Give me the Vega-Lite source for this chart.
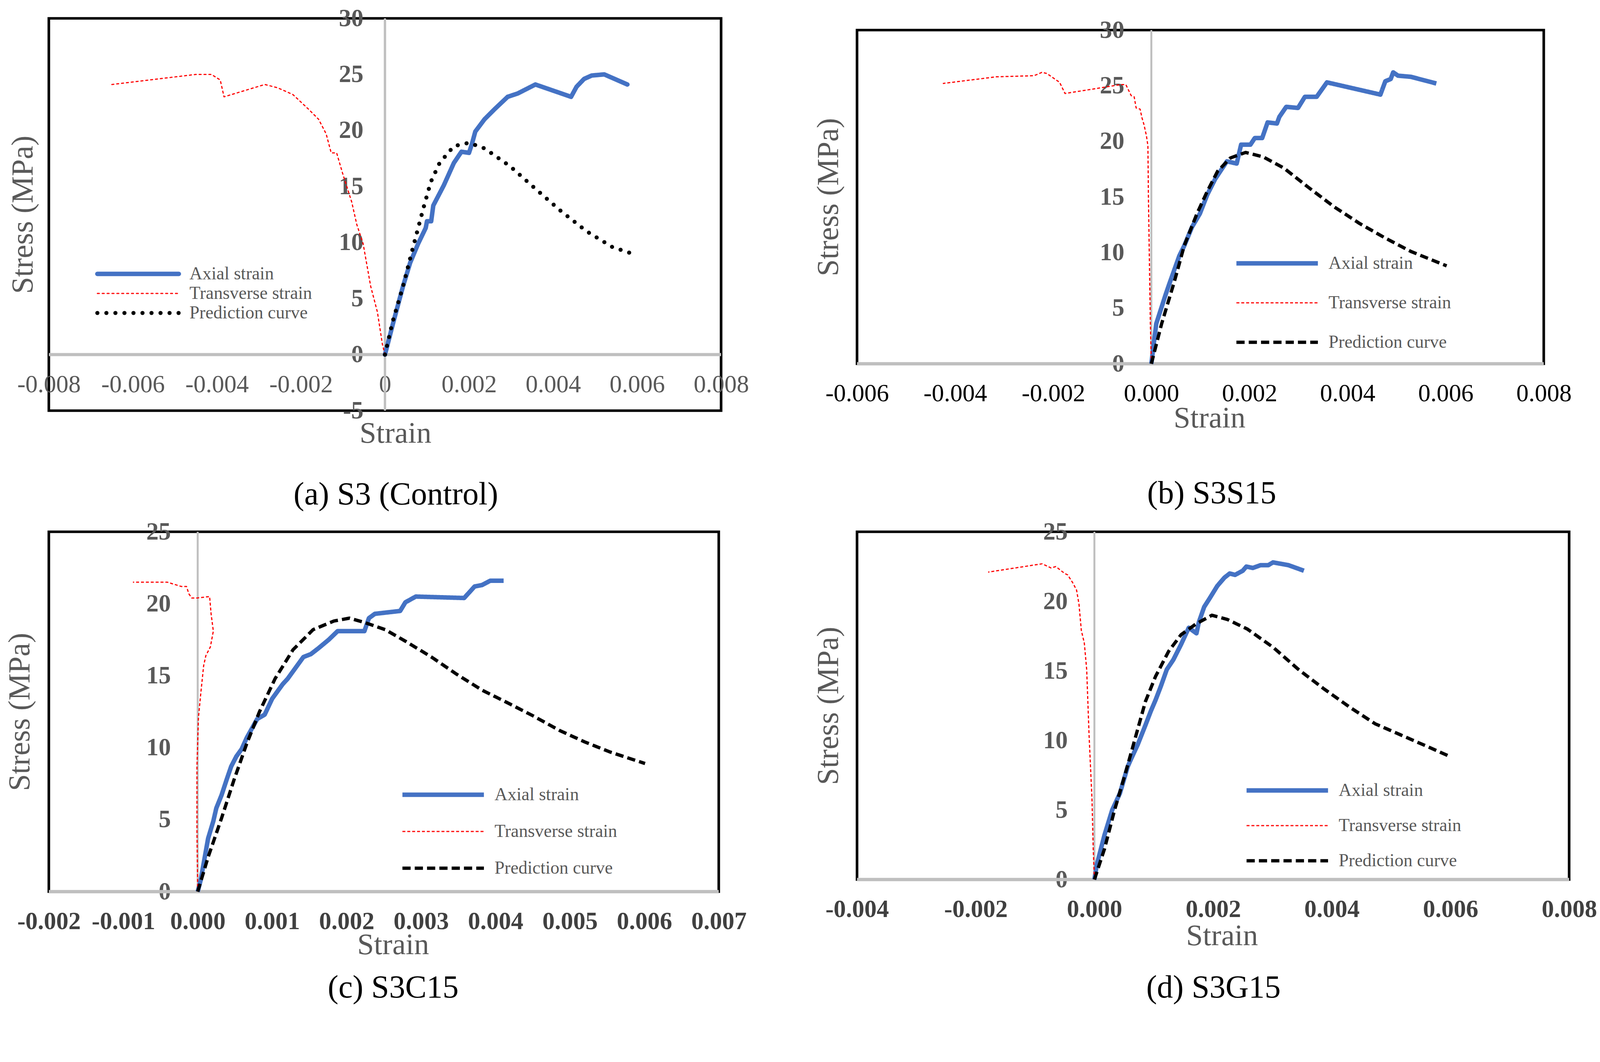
{
  "$schema": "https://vega.github.io/schema/vega-lite/v6.json",
  "autosize": {"type": "none"},
  "padding": {"left": 125, "top": 9, "right": 4147, "bottom": 2709},
  "background": "white",
  "bounds": "full",
  "spacing": 157,
  "resolve": {
    "scale": {"color": "independent", "strokeDash": "independent", "strokeWidth": "independent"},
    "legend": {"color": "independent", "strokeDash": "independent", "strokeWidth": "independent"}
  },
  "datasets": {
    "a": [
      {"series": "Axial strain", "strain": 0, "stress": 0},
      {"series": "Axial strain", "strain": 0.0002, "stress": 2.9},
      {"series": "Axial strain", "strain": 0.00043, "stress": 6.1},
      {"series": "Axial strain", "strain": 0.0006, "stress": 8.2},
      {"series": "Axial strain", "strain": 0.00079, "stress": 9.9},
      {"series": "Axial strain", "strain": 0.00097, "stress": 11.3},
      {"series": "Axial strain", "strain": 0.001, "stress": 11.9},
      {"series": "Axial strain", "strain": 0.0011, "stress": 11.9},
      {"series": "Axial strain", "strain": 0.00115, "stress": 13.3},
      {"series": "Axial strain", "strain": 0.0014, "stress": 15.1},
      {"series": "Axial strain", "strain": 0.00164, "stress": 17.1},
      {"series": "Axial strain", "strain": 0.00182, "stress": 18.1},
      {"series": "Axial strain", "strain": 0.002, "stress": 18.0},
      {"series": "Axial strain", "strain": 0.00207, "stress": 18.8},
      {"series": "Axial strain", "strain": 0.00215, "stress": 19.9},
      {"series": "Axial strain", "strain": 0.00237, "stress": 21.0},
      {"series": "Axial strain", "strain": 0.00261, "stress": 21.9},
      {"series": "Axial strain", "strain": 0.00292, "stress": 23.0},
      {"series": "Axial strain", "strain": 0.00316, "stress": 23.3},
      {"series": "Axial strain", "strain": 0.00358, "stress": 24.1},
      {"series": "Axial strain", "strain": 0.00443, "stress": 23.0},
      {"series": "Axial strain", "strain": 0.00456, "stress": 23.9},
      {"series": "Axial strain", "strain": 0.00474, "stress": 24.6},
      {"series": "Axial strain", "strain": 0.00492, "stress": 24.9},
      {"series": "Axial strain", "strain": 0.00522, "stress": 25.0},
      {"series": "Axial strain", "strain": 0.00577, "stress": 24.1},
      {"series": "Transverse strain", "strain": 0, "stress": 0},
      {"series": "Transverse strain", "strain": -0.00006, "stress": 0.9},
      {"series": "Transverse strain", "strain": -0.00018, "stress": 3.8},
      {"series": "Transverse strain", "strain": -0.00034, "stress": 6.1},
      {"series": "Transverse strain", "strain": -0.00052, "stress": 9.9},
      {"series": "Transverse strain", "strain": -0.00067, "stress": 11.6},
      {"series": "Transverse strain", "strain": -0.00079, "stress": 13.6},
      {"series": "Transverse strain", "strain": -0.00101, "stress": 16.2},
      {"series": "Transverse strain", "strain": -0.00115, "stress": 18.0},
      {"series": "Transverse strain", "strain": -0.00128, "stress": 18.0},
      {"series": "Transverse strain", "strain": -0.0014, "stress": 19.7},
      {"series": "Transverse strain", "strain": -0.00158, "stress": 21.0},
      {"series": "Transverse strain", "strain": -0.00182, "stress": 21.9},
      {"series": "Transverse strain", "strain": -0.00219, "stress": 23.2},
      {"series": "Transverse strain", "strain": -0.00255, "stress": 23.8},
      {"series": "Transverse strain", "strain": -0.00286, "stress": 24.1},
      {"series": "Transverse strain", "strain": -0.00383, "stress": 23.0},
      {"series": "Transverse strain", "strain": -0.00392, "stress": 24.5},
      {"series": "Transverse strain", "strain": -0.00413, "stress": 25.0},
      {"series": "Transverse strain", "strain": -0.0045, "stress": 25.0},
      {"series": "Transverse strain", "strain": -0.0065, "stress": 24.1},
      {"series": "Prediction curve", "strain": 0, "stress": 0},
      {"series": "Prediction curve", "strain": 0.00018, "stress": 2.9},
      {"series": "Prediction curve", "strain": 0.00043, "stress": 6.1},
      {"series": "Prediction curve", "strain": 0.00067, "stress": 9.6},
      {"series": "Prediction curve", "strain": 0.00091, "stress": 13.0},
      {"series": "Prediction curve", "strain": 0.00109, "stress": 15.4},
      {"series": "Prediction curve", "strain": 0.0013, "stress": 17.1},
      {"series": "Prediction curve", "strain": 0.00164, "stress": 18.6},
      {"series": "Prediction curve", "strain": 0.002, "stress": 18.9},
      {"series": "Prediction curve", "strain": 0.00237, "stress": 18.4},
      {"series": "Prediction curve", "strain": 0.00298, "stress": 16.8},
      {"series": "Prediction curve", "strain": 0.00358, "stress": 14.8},
      {"series": "Prediction curve", "strain": 0.00419, "stress": 12.8},
      {"series": "Prediction curve", "strain": 0.0048, "stress": 11.0},
      {"series": "Prediction curve", "strain": 0.00541, "stress": 9.6},
      {"series": "Prediction curve", "strain": 0.00589, "stress": 9.0}
    ],
    "b": [
      {"series": "Axial strain", "strain": 0, "stress": 0},
      {"series": "Axial strain", "strain": 0.0001, "stress": 3.6},
      {"series": "Axial strain", "strain": 0.00029, "stress": 6.2},
      {"series": "Axial strain", "strain": 0.00036, "stress": 7.1},
      {"series": "Axial strain", "strain": 0.00057, "stress": 9.7},
      {"series": "Axial strain", "strain": 0.00067, "stress": 10.6},
      {"series": "Axial strain", "strain": 0.00083, "stress": 12.3},
      {"series": "Axial strain", "strain": 0.00099, "stress": 13.5},
      {"series": "Axial strain", "strain": 0.00114, "stress": 15.2},
      {"series": "Axial strain", "strain": 0.0013, "stress": 16.6},
      {"series": "Axial strain", "strain": 0.00154, "stress": 18.2},
      {"series": "Axial strain", "strain": 0.00174, "stress": 18.0},
      {"series": "Axial strain", "strain": 0.00183, "stress": 19.7},
      {"series": "Axial strain", "strain": 0.00202, "stress": 19.7},
      {"series": "Axial strain", "strain": 0.00211, "stress": 20.3},
      {"series": "Axial strain", "strain": 0.00226, "stress": 20.3},
      {"series": "Axial strain", "strain": 0.00237, "stress": 21.7},
      {"series": "Axial strain", "strain": 0.00256, "stress": 21.6},
      {"series": "Axial strain", "strain": 0.00261, "stress": 22.2},
      {"series": "Axial strain", "strain": 0.00275, "stress": 23.1},
      {"series": "Axial strain", "strain": 0.00299, "stress": 23.0},
      {"series": "Axial strain", "strain": 0.00313, "stress": 24.0},
      {"series": "Axial strain", "strain": 0.00337, "stress": 24.0},
      {"series": "Axial strain", "strain": 0.00358, "stress": 25.3},
      {"series": "Axial strain", "strain": 0.00467, "stress": 24.2},
      {"series": "Axial strain", "strain": 0.00477, "stress": 25.4},
      {"series": "Axial strain", "strain": 0.00488, "stress": 25.6},
      {"series": "Axial strain", "strain": 0.00493, "stress": 26.2},
      {"series": "Axial strain", "strain": 0.00503, "stress": 25.9},
      {"series": "Axial strain", "strain": 0.00529, "stress": 25.8},
      {"series": "Axial strain", "strain": 0.00581, "stress": 25.2},
      {"series": "Transverse strain", "strain": 0, "stress": 0},
      {"series": "Transverse strain", "strain": -0.00002, "stress": 3.6},
      {"series": "Transverse strain", "strain": -0.00004, "stress": 9.4},
      {"series": "Transverse strain", "strain": -0.00006, "stress": 15.2},
      {"series": "Transverse strain", "strain": -0.00007, "stress": 19.6},
      {"series": "Transverse strain", "strain": -0.0001, "stress": 20.5},
      {"series": "Transverse strain", "strain": -0.00015, "stress": 21.5},
      {"series": "Transverse strain", "strain": -0.00019, "stress": 22.1},
      {"series": "Transverse strain", "strain": -0.00023, "stress": 22.9},
      {"series": "Transverse strain", "strain": -0.00031, "stress": 23.0},
      {"series": "Transverse strain", "strain": -0.00035, "stress": 24.0},
      {"series": "Transverse strain", "strain": -0.00041, "stress": 24.1},
      {"series": "Transverse strain", "strain": -0.00052, "stress": 25.1},
      {"series": "Transverse strain", "strain": -0.00062, "stress": 25.1},
      {"series": "Transverse strain", "strain": -0.00176, "stress": 24.3},
      {"series": "Transverse strain", "strain": -0.00187, "stress": 25.3},
      {"series": "Transverse strain", "strain": -0.00213, "stress": 26.1},
      {"series": "Transverse strain", "strain": -0.00223, "stress": 26.2},
      {"series": "Transverse strain", "strain": -0.00239, "stress": 25.9},
      {"series": "Transverse strain", "strain": -0.00316, "stress": 25.8},
      {"series": "Transverse strain", "strain": -0.00425, "stress": 25.2},
      {"series": "Prediction curve", "strain": 0, "stress": 0},
      {"series": "Prediction curve", "strain": 0.00021, "stress": 3.6},
      {"series": "Prediction curve", "strain": 0.00047, "stress": 7.4},
      {"series": "Prediction curve", "strain": 0.00067, "stress": 10.6},
      {"series": "Prediction curve", "strain": 0.00093, "stress": 13.5},
      {"series": "Prediction curve", "strain": 0.00114, "stress": 15.5},
      {"series": "Prediction curve", "strain": 0.00135, "stress": 17.3},
      {"series": "Prediction curve", "strain": 0.00161, "stress": 18.5},
      {"series": "Prediction curve", "strain": 0.00192, "stress": 19.0},
      {"series": "Prediction curve", "strain": 0.00228, "stress": 18.6},
      {"series": "Prediction curve", "strain": 0.0027, "stress": 17.6},
      {"series": "Prediction curve", "strain": 0.00322, "stress": 15.8},
      {"series": "Prediction curve", "strain": 0.00373, "stress": 14.1},
      {"series": "Prediction curve", "strain": 0.00425, "stress": 12.6},
      {"series": "Prediction curve", "strain": 0.00477, "stress": 11.3},
      {"series": "Prediction curve", "strain": 0.00529, "stress": 10.1},
      {"series": "Prediction curve", "strain": 0.00602, "stress": 8.8}
    ],
    "c": [
      {"series": "Axial strain", "strain": 0, "stress": 0},
      {"series": "Axial strain", "strain": 0.00004, "stress": 0.8},
      {"series": "Axial strain", "strain": 0.00014, "stress": 3.7},
      {"series": "Axial strain", "strain": 0.00021, "stress": 4.9},
      {"series": "Axial strain", "strain": 0.00025, "stress": 5.8},
      {"series": "Axial strain", "strain": 0.00032, "stress": 6.7},
      {"series": "Axial strain", "strain": 0.00039, "stress": 7.8},
      {"series": "Axial strain", "strain": 0.00045, "stress": 8.7},
      {"series": "Axial strain", "strain": 0.00052, "stress": 9.4},
      {"series": "Axial strain", "strain": 0.00059, "stress": 9.9},
      {"series": "Axial strain", "strain": 0.00066, "stress": 10.7},
      {"series": "Axial strain", "strain": 0.0008, "stress": 12.0},
      {"series": "Axial strain", "strain": 0.0009, "stress": 12.3},
      {"series": "Axial strain", "strain": 0.001, "stress": 13.4},
      {"series": "Axial strain", "strain": 0.00114, "stress": 14.4},
      {"series": "Axial strain", "strain": 0.00121, "stress": 14.8},
      {"series": "Axial strain", "strain": 0.00128, "stress": 15.3},
      {"series": "Axial strain", "strain": 0.00142, "stress": 16.3},
      {"series": "Axial strain", "strain": 0.00152, "stress": 16.5},
      {"series": "Axial strain", "strain": 0.00162, "stress": 16.9},
      {"series": "Axial strain", "strain": 0.00176, "stress": 17.5},
      {"series": "Axial strain", "strain": 0.00188, "stress": 18.1},
      {"series": "Axial strain", "strain": 0.00224, "stress": 18.1},
      {"series": "Axial strain", "strain": 0.0023, "stress": 19.0},
      {"series": "Axial strain", "strain": 0.00238, "stress": 19.3},
      {"series": "Axial strain", "strain": 0.00272, "stress": 19.5},
      {"series": "Axial strain", "strain": 0.00279, "stress": 20.1},
      {"series": "Axial strain", "strain": 0.00293, "stress": 20.5},
      {"series": "Axial strain", "strain": 0.00358, "stress": 20.4},
      {"series": "Axial strain", "strain": 0.00365, "stress": 20.8},
      {"series": "Axial strain", "strain": 0.00372, "stress": 21.2},
      {"series": "Axial strain", "strain": 0.00382, "stress": 21.3},
      {"series": "Axial strain", "strain": 0.00393, "stress": 21.6},
      {"series": "Axial strain", "strain": 0.00411, "stress": 21.6},
      {"series": "Transverse strain", "strain": 0, "stress": 0},
      {"series": "Transverse strain", "strain": -0.00001, "stress": 4.2},
      {"series": "Transverse strain", "strain": -0.00001, "stress": 8.7},
      {"series": "Transverse strain", "strain": 0.00001, "stress": 12.1},
      {"series": "Transverse strain", "strain": 0.00004, "stress": 13.7},
      {"series": "Transverse strain", "strain": 0.00008, "stress": 15.7},
      {"series": "Transverse strain", "strain": 0.00011, "stress": 16.4},
      {"series": "Transverse strain", "strain": 0.00017, "stress": 17.0},
      {"series": "Transverse strain", "strain": 0.00021, "stress": 18.1},
      {"series": "Transverse strain", "strain": 0.00018, "stress": 19.3},
      {"series": "Transverse strain", "strain": 0.00016, "stress": 20.5},
      {"series": "Transverse strain", "strain": -0.00001, "stress": 20.4},
      {"series": "Transverse strain", "strain": -0.00008, "stress": 20.4},
      {"series": "Transverse strain", "strain": -0.00012, "stress": 20.7},
      {"series": "Transverse strain", "strain": -0.00015, "stress": 21.2},
      {"series": "Transverse strain", "strain": -0.00022, "stress": 21.2},
      {"series": "Transverse strain", "strain": -0.00041, "stress": 21.5},
      {"series": "Transverse strain", "strain": -0.00087, "stress": 21.5},
      {"series": "Prediction curve", "strain": 0, "stress": 0},
      {"series": "Prediction curve", "strain": 0.00014, "stress": 2.4},
      {"series": "Prediction curve", "strain": 0.00032, "stress": 5.1},
      {"series": "Prediction curve", "strain": 0.00049, "stress": 7.8},
      {"series": "Prediction curve", "strain": 0.00066, "stress": 10.3},
      {"series": "Prediction curve", "strain": 0.00083, "stress": 12.5},
      {"series": "Prediction curve", "strain": 0.00104, "stress": 14.8},
      {"series": "Prediction curve", "strain": 0.00128, "stress": 16.8},
      {"series": "Prediction curve", "strain": 0.00155, "stress": 18.2},
      {"series": "Prediction curve", "strain": 0.00183, "stress": 18.8},
      {"series": "Prediction curve", "strain": 0.00204, "stress": 19.0},
      {"series": "Prediction curve", "strain": 0.00224, "stress": 18.7},
      {"series": "Prediction curve", "strain": 0.00252, "stress": 18.2},
      {"series": "Prediction curve", "strain": 0.00279, "stress": 17.4},
      {"series": "Prediction curve", "strain": 0.00314, "stress": 16.3},
      {"series": "Prediction curve", "strain": 0.00348, "stress": 15.1},
      {"series": "Prediction curve", "strain": 0.00382, "stress": 14.0},
      {"series": "Prediction curve", "strain": 0.00417, "stress": 13.1},
      {"series": "Prediction curve", "strain": 0.00451, "stress": 12.2},
      {"series": "Prediction curve", "strain": 0.00486, "stress": 11.2},
      {"series": "Prediction curve", "strain": 0.0052, "stress": 10.4},
      {"series": "Prediction curve", "strain": 0.00554, "stress": 9.7},
      {"series": "Prediction curve", "strain": 0.00601, "stress": 8.9}
    ],
    "d": [
      {"series": "Axial strain", "strain": 0, "stress": 0},
      {"series": "Axial strain", "strain": 0.00004, "stress": 1.05},
      {"series": "Axial strain", "strain": 0.00017, "stress": 3.2},
      {"series": "Axial strain", "strain": 0.0003, "stress": 5.0},
      {"series": "Axial strain", "strain": 0.00043, "stress": 6.2},
      {"series": "Axial strain", "strain": 0.00056, "stress": 8.1},
      {"series": "Axial strain", "strain": 0.0006, "stress": 8.5},
      {"series": "Axial strain", "strain": 0.00073, "stress": 9.7},
      {"series": "Axial strain", "strain": 0.00086, "stress": 11.1},
      {"series": "Axial strain", "strain": 0.00095, "stress": 12.1},
      {"series": "Axial strain", "strain": 0.00103, "stress": 12.9},
      {"series": "Axial strain", "strain": 0.00112, "stress": 13.9},
      {"series": "Axial strain", "strain": 0.00122, "stress": 15.1},
      {"series": "Axial strain", "strain": 0.00133, "stress": 15.8},
      {"series": "Axial strain", "strain": 0.00146, "stress": 16.9},
      {"series": "Axial strain", "strain": 0.00159, "stress": 18.1},
      {"series": "Axial strain", "strain": 0.00172, "stress": 17.7},
      {"series": "Axial strain", "strain": 0.00176, "stress": 18.5},
      {"series": "Axial strain", "strain": 0.00185, "stress": 19.6},
      {"series": "Axial strain", "strain": 0.00194, "stress": 20.2},
      {"series": "Axial strain", "strain": 0.00207, "stress": 21.1},
      {"series": "Axial strain", "strain": 0.00219, "stress": 21.7},
      {"series": "Axial strain", "strain": 0.00228, "stress": 22.0},
      {"series": "Axial strain", "strain": 0.00237, "stress": 21.9},
      {"series": "Axial strain", "strain": 0.0025, "stress": 22.2},
      {"series": "Axial strain", "strain": 0.00256, "stress": 22.5},
      {"series": "Axial strain", "strain": 0.00267, "stress": 22.4},
      {"series": "Axial strain", "strain": 0.0028, "stress": 22.6},
      {"series": "Axial strain", "strain": 0.00293, "stress": 22.6},
      {"series": "Axial strain", "strain": 0.00301, "stress": 22.8},
      {"series": "Axial strain", "strain": 0.00327, "stress": 22.6},
      {"series": "Axial strain", "strain": 0.00353, "stress": 22.2},
      {"series": "Transverse strain", "strain": 0, "stress": 0},
      {"series": "Transverse strain", "strain": -0.00002, "stress": 2.2},
      {"series": "Transverse strain", "strain": -0.00004, "stress": 5.7},
      {"series": "Transverse strain", "strain": -0.00009, "stress": 10.4},
      {"series": "Transverse strain", "strain": -0.00013, "stress": 15.1},
      {"series": "Transverse strain", "strain": -0.00017, "stress": 17.0},
      {"series": "Transverse strain", "strain": -0.00022, "stress": 17.9},
      {"series": "Transverse strain", "strain": -0.00026, "stress": 19.8},
      {"series": "Transverse strain", "strain": -0.0003, "stress": 20.8},
      {"series": "Transverse strain", "strain": -0.00036, "stress": 21.3},
      {"series": "Transverse strain", "strain": -0.00045, "stress": 21.9},
      {"series": "Transverse strain", "strain": -0.0005, "stress": 22.0},
      {"series": "Transverse strain", "strain": -0.00065, "stress": 22.5},
      {"series": "Transverse strain", "strain": -0.00073, "stress": 22.4},
      {"series": "Transverse strain", "strain": -0.00088, "stress": 22.7},
      {"series": "Transverse strain", "strain": -0.00179, "stress": 22.1},
      {"series": "Prediction curve", "strain": 0, "stress": 0},
      {"series": "Prediction curve", "strain": 0.00017, "stress": 2.2},
      {"series": "Prediction curve", "strain": 0.00034, "stress": 5.0},
      {"series": "Prediction curve", "strain": 0.00052, "stress": 7.6},
      {"series": "Prediction curve", "strain": 0.00069, "stress": 10.2},
      {"series": "Prediction curve", "strain": 0.00086, "stress": 12.8},
      {"series": "Prediction curve", "strain": 0.00103, "stress": 14.6},
      {"series": "Prediction curve", "strain": 0.00125, "stress": 16.4},
      {"series": "Prediction curve", "strain": 0.00146, "stress": 17.6},
      {"series": "Prediction curve", "strain": 0.00172, "stress": 18.4},
      {"series": "Prediction curve", "strain": 0.00198, "stress": 19.0},
      {"series": "Prediction curve", "strain": 0.00224, "stress": 18.7},
      {"series": "Prediction curve", "strain": 0.00258, "stress": 18.0},
      {"series": "Prediction curve", "strain": 0.00301, "stress": 16.7},
      {"series": "Prediction curve", "strain": 0.00344, "stress": 15.1},
      {"series": "Prediction curve", "strain": 0.00387, "stress": 13.7},
      {"series": "Prediction curve", "strain": 0.0043, "stress": 12.4},
      {"series": "Prediction curve", "strain": 0.00473, "stress": 11.2},
      {"series": "Prediction curve", "strain": 0.00516, "stress": 10.4},
      {"series": "Prediction curve", "strain": 0.00559, "stress": 9.6},
      {"series": "Prediction curve", "strain": 0.00596, "stress": 8.9}
    ]
  },
  "hconcat": [
    {
      "bounds": "flush",
      "spacing": 0,
      "resolve": {
        "scale": {"color": "independent", "strokeDash": "independent", "strokeWidth": "independent"},
        "legend": {"color": "independent", "strokeDash": "independent", "strokeWidth": "independent"}
      },
      "vconcat": [
        {"width": 10, "height": 38, "view": {"stroke": null}, "data": {"values": []}, "mark": "point"},
        {
          "width": 1721,
          "height": 1004,
          "title": {"text": "(a) S3 (Control)", "orient": "bottom", "frame": "group", "anchor": "middle", "offset": 79, "dx": 28},
          "layer": [
            {
              "data": {"values": [{"strain": 0}]},
              "mark": {"type": "rule", "color": "#BFBFBF", "strokeWidth": 6},
              "encoding": {"x": {"field": "strain", "type": "quantitative", "scale": {"domain": [-0.008, 0.008], "nice": false, "zero": false}}}
            },
            {
              "data": {"values": [{"stress": 0}]},
              "mark": {"type": "rule", "color": "#BFBFBF", "strokeWidth": 8},
              "encoding": {"y": {"field": "stress", "type": "quantitative", "scale": {"domain": [-5, 30], "nice": false, "zero": false}}}
            },
            {
              "data": {"name": "a"},
              "mark": {"type": "line", "strokeCap": "round", "strokeJoin": "round"},
              "encoding": {
                "x": {
                  "field": "strain", "type": "quantitative",
                  "scale": {"domain": [-0.008, 0.008], "nice": false, "zero": false},
                  "axis": {
                    "title": "Strain", "offset": -143, "titleY": 201, "titleX": 887,
                    "values": [-0.008, -0.006, -0.004, -0.002, 0, 0.002, 0.004, 0.006, 0.008],
                    "labelExpr": "datum.value == 0 ? '0' : (datum.value < 0 ? '-' : '') + format(abs(datum.value), '.3f')"
                  }
                },
                "y": {
                  "field": "stress", "type": "quantitative",
                  "scale": {"domain": [-5, 30], "nice": false, "zero": false},
                  "axis": {
                    "title": "Stress (MPa)", "offset": -860, "titleX": -926, "labelPadding": 55,
                    "values": [-5, 0, 5, 10, 15, 20, 25, 30],
                    "labelExpr": "(datum.value < 0 ? '-' : '') + abs(datum.value)"
                  }
                },
                "color": {
                  "field": "series", "type": "nominal",
                  "scale": {"domain": ["Axial strain", "Transverse strain", "Prediction curve"], "range": ["#4472C4", "#FF0000", "#000000"]},
                  "legend": {"title": null, "legendX": 118, "legendY": 631, "rowPadding": 4, "encode": {"symbols": {"update": {"strokeCap": {"value": "round"}}}}}
                },
                "strokeDash": {
                  "field": "series", "type": "nominal",
                  "scale": {"domain": ["Axial strain", "Transverse strain", "Prediction curve"], "range": [[1, 0], [5, 7.5], [0.1, 23]]},
                  "legend": {"title": null, "legendX": 118, "legendY": 631, "rowPadding": 4}
                },
                "strokeWidth": {
                  "field": "series", "type": "nominal",
                  "scale": {"type": "ordinal", "domain": ["Axial strain", "Transverse strain", "Prediction curve"], "range": [11.5, 3, 10.5]},
                  "legend": {"title": null, "legendX": 118, "legendY": 631, "rowPadding": 4}
                },
                "order": {"value": null}
              }
            }
          ]
        },
        {"width": 10, "height": 310, "view": {"stroke": null}, "data": {"values": []}, "mark": "point"},
        {
          "width": 1715,
          "height": 921,
          "title": {"text": "(c) S3C15", "orient": "bottom", "frame": "group", "anchor": "middle", "offset": 32, "dx": 24},
          "layer": [
            {
              "data": {"values": [{"strain": 0}]},
              "mark": {"type": "rule", "color": "#BFBFBF", "strokeWidth": 5},
              "encoding": {"x": {"field": "strain", "type": "quantitative", "scale": {"domain": [-0.002, 0.007], "nice": false, "zero": false}}}
            },
            {
              "data": {"values": [{"stress": 0}]},
              "mark": {"type": "rule", "color": "#BFBFBF", "strokeWidth": 8.5},
              "encoding": {"y": {"field": "stress", "type": "quantitative", "scale": {"domain": [0, 25], "nice": false, "zero": false}}}
            },
            {
              "data": {"name": "c"},
              "mark": {"type": "line", "strokeCap": "butt", "strokeJoin": "round"},
              "encoding": {
                "x": {
                  "field": "strain", "type": "quantitative",
                  "scale": {"domain": [-0.002, 0.007], "nice": false, "zero": false},
                  "axis": {
                    "title": "Strain", "titleY": 136, "titleX": 881,
                    "labelColor": "#404040", "labelFontWeight": "bold",
                    "values": [-0.002, -0.001, 0, 0.001, 0.002, 0.003, 0.004, 0.005, 0.006, 0.007],
                    "labelExpr": "(datum.value < 0 ? '-' : '') + format(abs(datum.value), '.3f')"
                  }
                },
                "y": {
                  "field": "stress", "type": "quantitative",
                  "scale": {"domain": [0, 25], "nice": false, "zero": false},
                  "axis": {"title": "Stress (MPa)", "offset": -381, "titleX": -455, "labelPadding": 69, "values": [0, 5, 10, 15, 20, 25]}
                },
                "color": {
                  "field": "series", "type": "nominal",
                  "scale": {"domain": ["Axial strain", "Transverse strain", "Prediction curve"], "range": ["#4472C4", "#FF0000", "#000000"]},
                  "legend": {"title": null, "legendX": 899, "legendY": 650, "rowPadding": 48}
                },
                "strokeDash": {
                  "field": "series", "type": "nominal",
                  "scale": {"domain": ["Axial strain", "Transverse strain", "Prediction curve"], "range": [[1, 0], [7.5, 5], [21, 10.5]]},
                  "legend": {"title": null, "legendX": 899, "legendY": 650, "rowPadding": 48}
                },
                "strokeWidth": {
                  "field": "series", "type": "nominal",
                  "scale": {"type": "ordinal", "domain": ["Axial strain", "Transverse strain", "Prediction curve"], "range": [11.5, 3, 8.5]},
                  "legend": {"title": null, "legendX": 899, "legendY": 650, "rowPadding": 48}
                },
                "order": {"value": null}
              }
            }
          ]
        }
      ]
    },
    {
      "bounds": "flush",
      "spacing": 0,
      "resolve": {
        "scale": {"color": "independent", "strokeDash": "independent", "strokeWidth": "independent"},
        "legend": {"color": "independent", "strokeDash": "independent", "strokeWidth": "independent"}
      },
      "vconcat": [
        {"width": 10, "height": 68, "view": {"stroke": null}, "data": {"values": []}, "mark": "point"},
        {
          "width": 1758,
          "height": 854,
          "title": {"text": "(b) S3S15", "orient": "bottom", "frame": "group", "anchor": "middle", "offset": 115, "dx": 29},
          "layer": [
            {
              "data": {"values": [{"strain": 0}]},
              "mark": {"type": "rule", "color": "#BFBFBF", "strokeWidth": 5},
              "encoding": {"x": {"field": "strain", "type": "quantitative", "scale": {"domain": [-0.006, 0.008], "nice": false, "zero": false}}}
            },
            {
              "data": {"values": [{"stress": 0}]},
              "mark": {"type": "rule", "color": "#BFBFBF", "strokeWidth": 8.5},
              "encoding": {"y": {"field": "stress", "type": "quantitative", "scale": {"domain": [0, 30], "nice": false, "zero": false}}}
            },
            {
              "data": {"name": "b"},
              "mark": {"type": "line", "strokeCap": "butt", "strokeJoin": "round"},
              "encoding": {
                "x": {
                  "field": "strain", "type": "quantitative",
                  "scale": {"domain": [-0.006, 0.008], "nice": false, "zero": false},
                  "axis": {
                    "title": "Strain", "titleY": 139, "titleX": 902, "labelColor": "#000000",
                    "values": [-0.006, -0.004, -0.002, 0, 0.002, 0.004, 0.006, 0.008],
                    "labelExpr": "(datum.value < 0 ? '-' : '') + format(abs(datum.value), '.3f')"
                  }
                },
                "y": {
                  "field": "stress", "type": "quantitative",
                  "scale": {"domain": [0, 30], "nice": false, "zero": false},
                  "axis": {"title": "Stress (MPa)", "offset": -753, "titleX": -826, "labelPadding": 69, "values": [0, 5, 10, 15, 20, 25, 30]}
                },
                "color": {
                  "field": "series", "type": "nominal",
                  "scale": {"domain": ["Axial strain", "Transverse strain", "Prediction curve"], "range": ["#4472C4", "#FF0000", "#000000"]},
                  "legend": {"title": null, "legendX": 965, "legendY": 574, "rowPadding": 55}
                },
                "strokeDash": {
                  "field": "series", "type": "nominal",
                  "scale": {"domain": ["Axial strain", "Transverse strain", "Prediction curve"], "range": [[1, 0], [7.5, 5], [21, 10.5]]},
                  "legend": {"title": null, "legendX": 965, "legendY": 574, "rowPadding": 55}
                },
                "strokeWidth": {
                  "field": "series", "type": "nominal",
                  "scale": {"type": "ordinal", "domain": ["Axial strain", "Transverse strain", "Prediction curve"], "range": [11.5, 3, 8.5]},
                  "legend": {"title": null, "legendX": 965, "legendY": 574, "rowPadding": 55}
                },
                "order": {"value": null}
              }
            }
          ]
        },
        {"width": 10, "height": 430, "view": {"stroke": null}, "data": {"values": []}, "mark": "point"},
        {
          "width": 1823,
          "height": 890,
          "title": {"text": "(d) S3G15", "orient": "bottom", "frame": "group", "anchor": "middle", "offset": 55, "dx": 1},
          "layer": [
            {
              "data": {"values": [{"strain": 0}]},
              "mark": {"type": "rule", "color": "#BFBFBF", "strokeWidth": 5},
              "encoding": {"x": {"field": "strain", "type": "quantitative", "scale": {"domain": [-0.004, 0.008], "nice": false, "zero": false}}}
            },
            {
              "data": {"values": [{"stress": 0}]},
              "mark": {"type": "rule", "color": "#BFBFBF", "strokeWidth": 8.5},
              "encoding": {"y": {"field": "stress", "type": "quantitative", "scale": {"domain": [0, 25], "nice": false, "zero": false}}}
            },
            {
              "data": {"name": "d"},
              "mark": {"type": "line", "strokeCap": "butt", "strokeJoin": "round"},
              "encoding": {
                "x": {
                  "field": "strain", "type": "quantitative",
                  "scale": {"domain": [-0.004, 0.008], "nice": false, "zero": false},
                  "axis": {
                    "title": "Strain", "titleY": 144, "titleX": 934,
                    "labelColor": "#404040", "labelFontWeight": "bold",
                    "values": [-0.004, -0.002, 0, 0.002, 0.004, 0.006, 0.008],
                    "labelExpr": "(datum.value < 0 ? '-' : '') + format(abs(datum.value), '.3f')"
                  }
                },
                "y": {
                  "field": "stress", "type": "quantitative",
                  "scale": {"domain": [0, 25], "nice": false, "zero": false},
                  "axis": {"title": "Stress (MPa)", "offset": -608, "titleX": -681, "labelPadding": 69, "values": [0, 5, 10, 15, 20, 25]}
                },
                "color": {
                  "field": "series", "type": "nominal",
                  "scale": {"domain": ["Axial strain", "Transverse strain", "Prediction curve"], "range": ["#4472C4", "#FF0000", "#000000"]},
                  "legend": {"title": null, "legendX": 991, "legendY": 639, "rowPadding": 44}
                },
                "strokeDash": {
                  "field": "series", "type": "nominal",
                  "scale": {"domain": ["Axial strain", "Transverse strain", "Prediction curve"], "range": [[1, 0], [7.5, 5], [21, 10.5]]},
                  "legend": {"title": null, "legendX": 991, "legendY": 639, "rowPadding": 44}
                },
                "strokeWidth": {
                  "field": "series", "type": "nominal",
                  "scale": {"type": "ordinal", "domain": ["Axial strain", "Transverse strain", "Prediction curve"], "range": [11.5, 3, 8.5]},
                  "legend": {"title": null, "legendX": 991, "legendY": 639, "rowPadding": 44}
                },
                "order": {"value": null}
              }
            }
          ]
        }
      ]
    }
  ],
  "config": {
    "font": "Liberation Serif",
    "view": {"stroke": "#000000", "strokeWidth": 6.7},
    "axis": {
      "grid": false, "domain": false, "ticks": false, "tickSize": 0,
      "labelFont": "Liberation Serif", "labelFontSize": 63, "labelColor": "#595959",
      "labelFlush": false, "labelOverlap": false, "labelLimit": 0,
      "titleFont": "Liberation Serif", "titleFontSize": 77, "titleFontWeight": "normal", "titleColor": "#595959"
    },
    "axisX": {"labelPadding": 45, "titleBaseline": "middle", "titleAlign": "center"},
    "axisY": {"labelFontWeight": "bold", "labelPadding": 67, "titleAngle": 270, "titleBaseline": "middle", "titleAlign": "center", "titleFontSize": 78},
    "legend": {
      "orient": "none", "labelFont": "Liberation Serif", "labelFontSize": 46, "labelColor": "#595959",
      "symbolType": "stroke", "symbolSize": 43500, "clipHeight": 46, "labelOffset": 21, "padding": 0, "labelLimit": 0
    },
    "title": {"font": "Liberation Serif", "fontSize": 82, "fontWeight": "normal", "color": "#000000"}
  }
}
